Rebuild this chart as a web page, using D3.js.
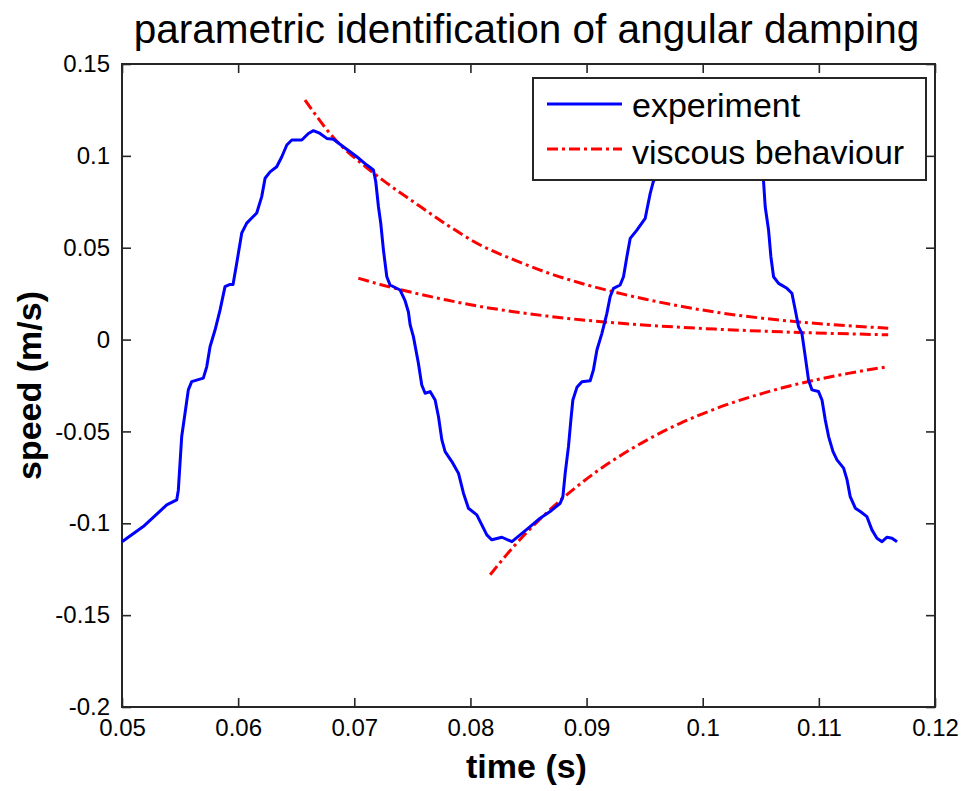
<!DOCTYPE html>
<html>
<head>
<meta charset="utf-8">
<script src="https://cdn.jsdelivr.net/npm/d3@7"></script>
<style>
  html, body { margin: 0; padding: 0; background: #fff; }
  svg { display: block; }
  text { font-family: "Liberation Sans", Arial, sans-serif; fill: #000; }
</style>
</head>
<body>
<script>
// ---------- data ----------
const xTicks = [0.05, 0.06, 0.07, 0.08, 0.09, 0.10, 0.11, 0.12];
const xTickLabels = ["0.05", "0.06", "0.07", "0.08", "0.09", "0.1", "0.11", "0.12"];
const yTicks = [0.15, 0.10, 0.05, 0, -0.05, -0.10, -0.15, -0.20];
const yTickLabels = ["0.15", "0.1", "0.05", "0", "-0.05", "-0.1", "-0.15", "-0.2"];

const seriesNames = ["experiment", "viscous behaviour"];

// experiment: time (s)
const expTime = [
  0.05000, 0.05183, 0.05385, 0.05471, 0.05485, 0.05514, 0.05543, 0.05571, 0.05600, 0.05700,
  0.05730, 0.05758, 0.05801, 0.05844, 0.05887, 0.05930, 0.05956, 0.05988, 0.06031, 0.06074,
  0.06160, 0.06203, 0.06232, 0.06275, 0.06332, 0.06376, 0.06419, 0.06462, 0.06548, 0.06605,
  0.06648, 0.06705, 0.06763, 0.06820, 0.06906, 0.07022, 0.07108, 0.07165, 0.07185, 0.07208,
  0.07228, 0.07251, 0.07280, 0.07308, 0.07394, 0.07438, 0.07466, 0.07481, 0.07509, 0.07552,
  0.07581, 0.07610, 0.07653, 0.07696, 0.07725, 0.07754, 0.07782, 0.07840, 0.07897, 0.07940,
  0.07983, 0.08055, 0.08098, 0.08141, 0.08184, 0.08271, 0.08357, 0.08428, 0.08514, 0.08600,
  0.08686, 0.08773, 0.08796, 0.08816, 0.08844, 0.08865, 0.08882, 0.08917, 0.08960, 0.09031,
  0.09059, 0.09089, 0.09132, 0.09175, 0.09203, 0.09232, 0.09289, 0.09318, 0.09347, 0.09376,
  0.09433, 0.09505, 0.09519, 0.09548, 0.09574, 0.09617, 0.09675, 0.09718, 0.09761, 0.09804,
  0.09890, 0.09947, 0.09990, 0.10047, 0.10105, 0.10162, 0.10248, 0.10363, 0.10450, 0.10507,
  0.10524, 0.10538, 0.10567, 0.10587, 0.10610, 0.10653, 0.10725, 0.10768, 0.10797, 0.10825,
  0.10854, 0.10883, 0.10911, 0.10941, 0.10997, 0.11027, 0.11055, 0.11084, 0.11122, 0.11156,
  0.11213, 0.11243, 0.11270, 0.11314, 0.11357, 0.11414, 0.11457, 0.11500, 0.11544, 0.11587,
  0.11630, 0.11673
];
// experiment: speed (m/s)
const expSpeed = [
  -0.1100, -0.1018, -0.0900, -0.0873, -0.0820, -0.0528, -0.0400, -0.0274, -0.0229, -0.0210,
  -0.0147, -0.0039, 0.0052, 0.0160, 0.0288, 0.0300, 0.0300, 0.0417, 0.0580, 0.0634,
  0.0689, 0.0778, 0.0878, 0.0913, 0.0941, 0.0995, 0.1059, 0.1086, 0.1086, 0.1122,
  0.1137, 0.1122, 0.1095, 0.1090, 0.1050, 0.0995, 0.0950, 0.0923, 0.0859, 0.0723,
  0.0633, 0.0487, 0.0342, 0.0297, 0.0270, 0.0210, 0.0150, 0.0080, 0.0016, -0.0129,
  -0.0247, -0.0292, -0.0283, -0.0329, -0.0420, -0.0546, -0.0610, -0.0664, -0.0727, -0.0836,
  -0.0918, -0.0954, -0.1009, -0.1063, -0.1090, -0.1076, -0.1100, -0.1063, -0.1018, -0.0972,
  -0.0936, -0.0891, -0.0855, -0.0727, -0.0583, -0.0437, -0.0329, -0.0260, -0.0229, -0.0224,
  -0.0165, -0.0057, 0.0034, 0.0143, 0.0233, 0.0279, 0.0297, 0.0342, 0.0451, 0.0551,
  0.0596, 0.0660, 0.0705, 0.0796, 0.0859, 0.0913, 0.0941, 0.0995, 0.1059, 0.1086,
  0.1086, 0.1122, 0.1137, 0.1122, 0.1095, 0.1090, 0.1050, 0.0995, 0.0950, 0.0923,
  0.0859, 0.0723, 0.0596, 0.0451, 0.0342, 0.0306, 0.0279, 0.0252, 0.0161, 0.0070,
  0.0034, -0.0093, -0.0220, -0.0274, -0.0283, -0.0329, -0.0437, -0.0528, -0.0610, -0.0655,
  -0.0700, -0.0764, -0.0855, -0.0918, -0.0936, -0.0964, -0.1036, -0.1081, -0.1100, -0.1076,
  -0.1081, -0.1100
];

// viscous behaviour fits (three decaying segments)
const fit1Time  = [0.06576, 0.06820, 0.07108, 0.07251, 0.07509, 0.07797, 0.08084, 0.08371, 0.08658, 0.08945, 0.09232, 0.09519, 0.09806, 0.10105, 0.10679, 0.11253, 0.11597];
const fit1Speed = [0.1304, 0.1100, 0.0935, 0.0865, 0.0750, 0.0625, 0.0515, 0.0435, 0.0365, 0.0308, 0.0260, 0.0218, 0.0182, 0.0150, 0.0105, 0.0075, 0.0062];

const fit2Time  = [0.07035, 0.07222, 0.07509, 0.07797, 0.08084, 0.08371, 0.08658, 0.08945, 0.09232, 0.09519, 0.09806, 0.10105, 0.10679, 0.11597];
const fit2Speed = [0.0334, 0.0300, 0.0255, 0.0215, 0.0180, 0.0152, 0.0128, 0.0108, 0.0092, 0.0078, 0.0067, 0.0057, 0.0042, 0.0026];

const fit3Time  = [0.08170, 0.08371, 0.08514, 0.08658, 0.08801, 0.08945, 0.09089, 0.09232, 0.09519, 0.09806, 0.10105, 0.10679, 0.11253, 0.11569];
const fit3Speed = [-0.1280, -0.1128, -0.1031, -0.0942, -0.0860, -0.0786, -0.0717, -0.0656, -0.0547, -0.0456, -0.0378, -0.0264, -0.0184, -0.0150];

// ---------- layout ----------
const W = 965, H = 791;
const M = { left: 122, top: 64, right: 935, bottom: 707 };

const svg = d3.select("body").append("svg").attr("width", W).attr("height", H);

const x = d3.scaleLinear().domain([0.05, 0.12]).range([M.left, M.right]);
const y = d3.scaleLinear().domain([-0.2, 0.15]).range([M.bottom, M.top]);

const axisColor = "#262626";

// title
svg.append("text")
  .attr("x", (M.left + M.right) / 2 - 2)
  .attr("y", 43)
  .attr("text-anchor", "middle")
  .style("font-size", "40.5px")
  .text("parametric identification of angular damping");

// axes (ticks inside)
const tickLen = 9;
const fmtX = (d) => xTickLabels[xTicks.findIndex(v => Math.abs(v - d) < 1e-9)];
const fmtY = (d) => yTickLabels[yTicks.findIndex(v => Math.abs(v - d) < 1e-9)];

const gB = svg.append("g").attr("transform", `translate(0,${M.bottom})`)
  .call(d3.axisBottom(x).tickValues(xTicks).tickSize(-tickLen).tickPadding(12).tickFormat(fmtX));
const gL = svg.append("g").attr("transform", `translate(${M.left},0)`)
  .call(d3.axisLeft(y).tickValues(yTicks).tickSize(-tickLen).tickPadding(12).tickFormat(fmtY));
const gT = svg.append("g").attr("transform", `translate(0,${M.top})`)
  .call(d3.axisTop(x).tickValues(xTicks).tickSize(-tickLen).tickFormat(""));
const gR = svg.append("g").attr("transform", `translate(${M.right},0)`)
  .call(d3.axisRight(y).tickValues(yTicks).tickSize(-tickLen).tickFormat(""));

[gB, gL, gT, gR].forEach(g => {
  g.select(".domain").remove();
  g.selectAll(".tick line").attr("stroke", axisColor).attr("stroke-width", 1.6);
  g.selectAll(".tick text").style("font-size", "24px").style("font-family", "'Liberation Sans', Arial, sans-serif").attr("fill", "#000");
});

// frame
svg.append("rect")
  .attr("x", M.left).attr("y", M.top)
  .attr("width", M.right - M.left).attr("height", M.bottom - M.top)
  .attr("fill", "none").attr("stroke", axisColor).attr("stroke-width", 2);

// axis labels
svg.append("text")
  .attr("x", (M.left + M.right) / 2 - 2)
  .attr("y", 778)
  .attr("text-anchor", "middle")
  .style("font-size", "34px").style("font-weight", "bold")
  .text("time (s)");
svg.append("text")
  .attr("transform", `translate(41,${(M.top + M.bottom) / 2}) rotate(-90)`)
  .attr("text-anchor", "middle")
  .style("font-size", "34px").style("font-weight", "bold")
  .text("speed (m/s)");

// lines
const lineSmooth = d3.line().x(d => x(d[0])).y(d => y(d[1])).curve(d3.curveMonotoneX);
const lineRaw = d3.line().x(d => x(d[0])).y(d => y(d[1])).curve(d3.curveLinear);
const zip = (a, b) => a.map((v, i) => [v, b[i]]);

const plot = svg.append("g");
const dash = "11,4,3,4";
[[fit1Time, fit1Speed], [fit2Time, fit2Speed], [fit3Time, fit3Speed]].forEach(([t, s]) => {
  plot.append("path")
    .attr("d", lineSmooth(zip(t, s)))
    .attr("fill", "none").attr("stroke", "#ff0000").attr("stroke-width", 3)
    .attr("stroke-dasharray", dash);
});
plot.append("path")
  .attr("d", lineRaw(zip(expTime, expSpeed)))
  .attr("fill", "none").attr("stroke", "#0000ff").attr("stroke-width", 3)
  .attr("stroke-linejoin", "round");

// legend
const lg = svg.append("g");
lg.append("rect")
  .attr("x", 533).attr("y", 78).attr("width", 393).attr("height", 102)
  .attr("fill", "#fff").attr("stroke", axisColor).attr("stroke-width", 2);
const legendItems = [
  { name: seriesNames[0], color: "#0000ff", dash: null, ly: 104, ty: 117 },
  { name: seriesNames[1], color: "#ff0000", dash: dash, ly: 149, ty: 164 }
];
legendItems.forEach(it => {
  lg.append("line")
    .attr("x1", 547).attr("x2", 622).attr("y1", it.ly).attr("y2", it.ly)
    .attr("stroke", it.color).attr("stroke-width", 3)
    .attr("stroke-dasharray", it.dash);
  lg.append("text")
    .attr("x", 632).attr("y", it.ty)
    .style("font-size", "34px")
    .text(it.name);
});
</script>
</body>
</html>
